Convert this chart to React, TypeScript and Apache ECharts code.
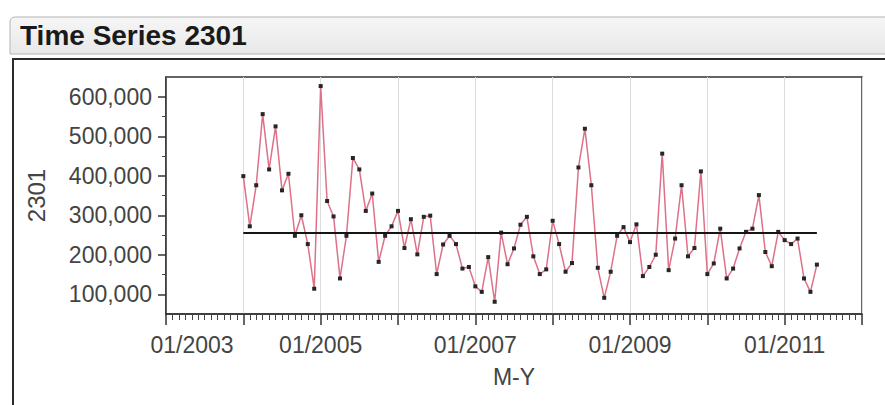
import React, { useEffect, useRef } from 'react';
import * as echarts from 'echarts';

// Monthly observations of series 2301, January 2004 through June 2011
const seriesName = '2301';
const axisStartYear = 2003; // x axis counts months from January of this year
const firstObservationMonth = 12; // 01/2004
const values = [
  399000, 272000, 376000, 556000, 416000, 525000, 363000, 405000, 248000, 300000, 227000, 114000,
  627000, 336000, 297000, 140000, 248000, 445000, 416000, 311000, 355000, 182000, 248000, 272000,
  311000, 217000, 290000, 201000, 296000, 299000, 151000, 226000, 248000, 227000, 165000, 169000,
  120000, 106000, 194000, 81000, 256000, 176000, 216000, 276000, 296000, 196000, 151000, 163000,
  286000, 227000, 157000, 179000, 421000, 519000, 376000, 167000, 91000, 157000, 248000, 270000,
  232000, 277000, 146000, 169000, 200000, 456000, 161000, 241000, 376000, 196000, 217000, 411000,
  151000, 178000, 266000, 140000, 165000, 216000, 258000, 266000, 351000, 207000, 171000, 258000,
  237000, 227000, 241000, 140000, 106000, 175000,
];
const yTicks = [100000, 200000, 300000, 400000, 500000, 600000];
const yMinorTicks = [150000, 250000, 350000, 450000, 550000];
const xLabelMonths = [0, 24, 48, 72, 96];

const FONT = '"Liberation Sans", Arial, Helvetica, sans-serif';
const LABEL_COLOR = '#444';

export default function App() {
  const ref = useRef<HTMLDivElement>(null);

  useEffect(() => {
    if (!ref.current) return;
    const chart = echarts.init(ref.current, undefined, { renderer: 'svg' });

    const points = values.map((v, i) => [firstObservationMonth + i, v]);
    const mean = values.reduce((a, b) => a + b, 0) / values.length;
    const firstX = firstObservationMonth;
    const lastX = firstObservationMonth + values.length - 1;

    const monthLabel = (m: number) => `01/${axisStartYear + Math.round(m / 12)}`;

    chart.setOption({
      animation: false,
      textStyle: { fontFamily: FONT },
      grid: {
        left: 166,
        top: 77,
        width: 696,
        height: 237,
        show: true,
        borderColor: '#333',
        borderWidth: 1.5,
        backgroundColor: 'transparent',
      },
      xAxis: {
        type: 'value',
        min: 0,
        max: 108,
        interval: 12,
        name: 'M-Y',
        nameLocation: 'middle',
        nameGap: 51,
        nameTextStyle: { fontSize: 23, color: LABEL_COLOR, fontFamily: FONT },
        axisLine: { show: true, lineStyle: { color: '#333', width: 1.5 } },
        axisTick: { show: true, length: 11, lineStyle: { color: '#333', width: 1.5 } },
        minorTick: { show: true, splitNumber: 12, length: 6, lineStyle: { color: '#444', width: 1 } },
        splitLine: { show: true, lineStyle: { color: '#dcdcdc', width: 1 } },
        axisLabel: {
          customValues: xLabelMonths,
          margin: 19,
          fontSize: 23,
          color: LABEL_COLOR,
          fontFamily: FONT,
          formatter: (v: number) => (v === 0 ? `{first|${monthLabel(v)}}` : monthLabel(v)),
          rich: {
            first: { padding: [0, 0, 0, 52], fontSize: 23, color: LABEL_COLOR, fontFamily: FONT },
          },
        },
      },
      yAxis: [
        {
          type: 'value',
          min: 50000,
          max: 650000,
          name: seriesName,
          nameLocation: 'middle',
          nameGap: 118,
          nameRotate: 90,
          nameTextStyle: { fontSize: 24, color: LABEL_COLOR, fontFamily: FONT },
          axisLine: { show: true, lineStyle: { color: '#333', width: 1.5 } },
          axisTick: { show: true, customValues: yTicks, length: 8, lineStyle: { color: '#333', width: 1.5 } },
          splitLine: { show: false },
          axisLabel: {
            customValues: yTicks,
            margin: 14,
            fontSize: 23,
            color: LABEL_COLOR,
            fontFamily: FONT,
            formatter: (v: number) => v.toLocaleString('en-US'),
          },
        },
        {
          type: 'value',
          min: 50000,
          max: 650000,
          position: 'left',
          axisLine: { show: false },
          axisTick: { show: true, customValues: yMinorTicks, length: 4, lineStyle: { color: '#444', width: 1 } },
          axisLabel: { show: false },
          splitLine: { show: false },
        },
      ],
      series: [
        {
          type: 'line',
          name: seriesName,
          data: points,
          yAxisIndex: 0,
          lineStyle: { color: '#de7088', width: 1.5 },
          symbol: 'rect',
          symbolSize: 4,
          itemStyle: { color: '#262626' },
          emphasis: { disabled: true },
          markLine: {
            silent: true,
            symbol: ['none', 'none'],
            label: { show: false },
            lineStyle: { color: '#151515', width: 2, type: 'solid' },
            data: [[{ coord: [firstX, mean] }, { coord: [lastX, mean] }]],
          },
        },
      ],
      graphic: [
        {
          type: 'rect',
          shape: { x: 10, y: 17, width: 900, height: 37, r: [5, 0, 0, 0] },
          style: {
            fill: new echarts.graphic.LinearGradient(0, 0, 0, 1, [
              { offset: 0, color: '#f6f6f6' },
              { offset: 1, color: '#e8e8e8' },
            ]),
            stroke: '#b4b4b4',
            lineWidth: 1,
          },
        },
        {
          type: 'text',
          x: 20,
          y: 35,
          style: {
            text: `Time Series ${seriesName}`,
            fontFamily: FONT,
            fontSize: 28,
            fontWeight: 'bold',
            fill: '#1a1a1a',
            verticalAlign: 'middle',
          },
        },
        {
          type: 'polyline',
          shape: { points: [[13, 405], [13, 59], [885, 59]] },
          style: { stroke: '#2a2a2a', lineWidth: 2, fill: null },
        },
      ],
    });

    return () => chart.dispose();
  }, []);

  return (
    <div
      ref={ref}
      style={{ position: 'absolute', left: 0, top: 0, width: 885, height: 405, background: '#fff' }}
    />
  );
}
